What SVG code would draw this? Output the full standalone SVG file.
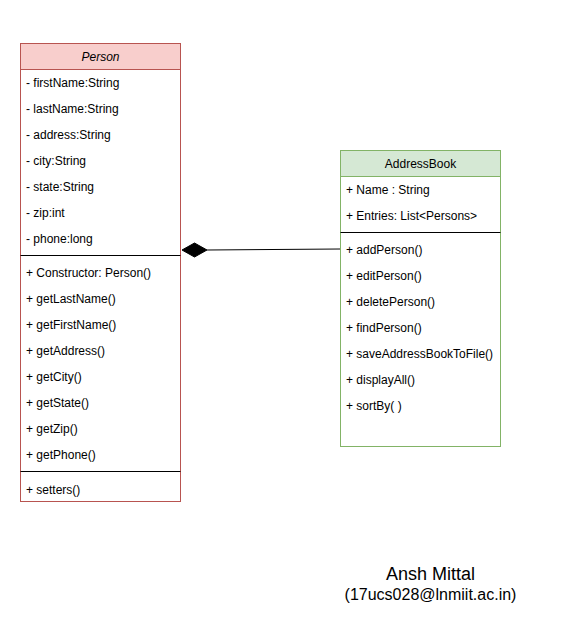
<svg xmlns="http://www.w3.org/2000/svg" width="581" height="641" viewBox="0 0 581 641">
<style>
text{font-family:"Liberation Sans",Arial,sans-serif;font-size:12px;fill:#000}
.t{text-anchor:middle}
.sep{stroke:#000;stroke-width:1}
</style>
<rect width="581" height="641" fill="#fff"/>
<g id="person">
<rect x="20.5" y="43.5" width="160" height="458" fill="#fff" stroke="#b85450"/>
<rect x="20.5" y="43.5" width="160" height="26" fill="#f8cecc" stroke="#b85450"/>
<text class="t" x="100.5" y="61" font-style="italic">Person</text>
<text x="26" y="87">- firstName:String</text>
<text x="26" y="113">- lastName:String</text>
<text x="26" y="139">- address:String</text>
<text x="26" y="165">- city:String</text>
<text x="26" y="191">- state:String</text>
<text x="26" y="217">- zip:int</text>
<text x="26" y="243">- phone:long</text>
<line class="sep" x1="20.5" y1="255.5" x2="180.5" y2="255.5"/>
<text x="26" y="276.5">+ Constructor: Person()</text>
<text x="26" y="302.5">+ getLastName()</text>
<text x="26" y="328.5">+ getFirstName()</text>
<text x="26" y="354.5">+ getAddress()</text>
<text x="26" y="380.5">+ getCity()</text>
<text x="26" y="406.5">+ getState()</text>
<text x="26" y="432.5">+ getZip()</text>
<text x="26" y="458.5">+ getPhone()</text>
<line class="sep" x1="20.5" y1="471.5" x2="180.5" y2="471.5"/>
<text x="26" y="493.5">+ setters()</text>
</g>
<g id="addressbook">
<rect x="340.5" y="150.5" width="160" height="296" fill="#fff" stroke="#82b366"/>
<rect x="340.5" y="150.5" width="160" height="26" fill="#d5e8d4" stroke="#82b366"/>
<text class="t" x="420.5" y="168">AddressBook</text>
<text x="346" y="194">+ Name : String</text>
<text x="346" y="220">+ Entries: List&lt;Persons&gt;</text>
<line class="sep" x1="340.5" y1="232.5" x2="500.5" y2="232.5"/>
<text x="346" y="254">+ addPerson()</text>
<text x="346" y="280">+ editPerson()</text>
<text x="346" y="306">+ deletePerson()</text>
<text x="346" y="332">+ findPerson()</text>
<text x="346" y="358">+ saveAddressBookToFile()</text>
<text x="346" y="384">+ displayAll()</text>
<text x="346" y="410">+ sortBy( )</text>
</g>
<g id="connectors">
<line x1="207" y1="250" x2="340" y2="249" stroke="#000" stroke-width="1"/>
<path d="M182,250 L194.5,243 L207,250 L194.5,257 Z" fill="#000" stroke="#000"/>
</g>
<g id="author">
<text class="t" x="430.5" y="580" style="font-size:18px">Ansh Mittal</text>
<text class="t" x="430.5" y="600" style="font-size:16px">(17ucs028@lnmiit.ac.in)</text>
</g>
</svg>
